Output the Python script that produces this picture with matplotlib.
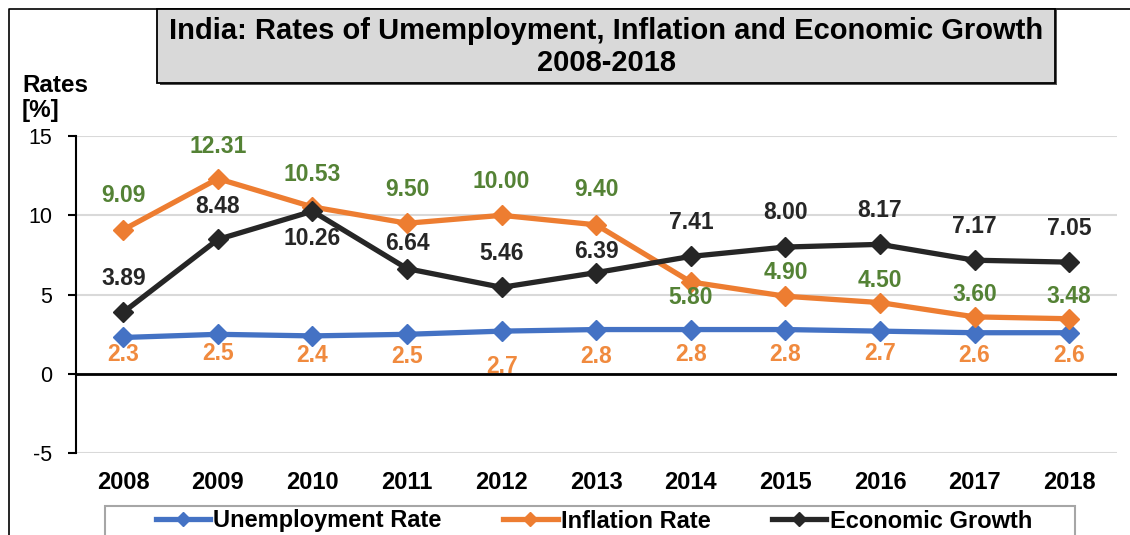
import matplotlib
matplotlib.use("Agg")
import matplotlib.pyplot as plt
from matplotlib.patches import Rectangle
from matplotlib.lines import Line2D

years = ["2008", "2009", "2010", "2011", "2012", "2013", "2014", "2015", "2016", "2017", "2018"]
unemployment = [2.3, 2.5, 2.4, 2.5, 2.7, 2.8, 2.8, 2.8, 2.7, 2.6, 2.6]
inflation = [9.09, 12.31, 10.53, 9.50, 10.00, 9.40, 5.80, 4.90, 4.50, 3.60, 3.48]
growth = [3.89, 8.48, 10.26, 6.64, 5.46, 6.39, 7.41, 8.00, 8.17, 7.17, 7.05]
unemp_labels = ["2.3", "2.5", "2.4", "2.5", "2.7", "2.8", "2.8", "2.8", "2.7", "2.6", "2.6"]
infl_labels = ["9.09", "12.31", "10.53", "9.50", "10.00", "9.40", "5.80", "4.90", "4.50", "3.60", "3.48"]
growth_labels = ["3.89", "8.48", "10.26", "6.64", "5.46", "6.39", "7.41", "8.00", "8.17", "7.17", "7.05"]

# label offsets (pixels, positive = up)
infl_off = [34, 32, 32, 34, 34, 35, -16, 24, 22, 22, 22]
growth_off = [34, 33, -27, 25, 34, 21, 34, 35, 34, 34, 34]
unemp_off = [-17, -19, -20, -22, -35, -27, -25, -25, -22, -23, -23]

BLUE = "#4472C4"
ORANGE = "#ED7D31"
DARK = "#262626"
GREEN = "#548235"
LORANGE = "#F08A3E"
FONT = "Liberation Sans"

plt.rcParams["font.family"] = [FONT, "DejaVu Sans"]
plt.rcParams["axes.unicode_minus"] = False

W, H = 1130, 535
fig = plt.figure(figsize=(W / 100, H / 100), dpi=100)
ax = fig.add_axes([76 / W, 1 - 453.3 / H, (1116.5 - 76) / W, (453.3 - 136) / H])

x = list(range(len(years)))
lw = 3.8
ms = 10
ax.plot(x, unemployment, color=BLUE, lw=lw, marker="D", ms=ms, zorder=3)
ax.plot(x, inflation, color=ORANGE, lw=lw, marker="D", ms=ms, zorder=4)
ax.plot(x, growth, color=DARK, lw=lw, marker="D", ms=ms, zorder=5)

px2pt = 72 / 100
for i in x:
    ax.annotate(infl_labels[i], (i, inflation[i]), xytext=(0, infl_off[i] * px2pt),
                textcoords="offset points", ha="center", va="center",
                color=GREEN, fontsize=16.5, fontweight="bold", zorder=6)
    ax.annotate(growth_labels[i], (i, growth[i]), xytext=(0, growth_off[i] * px2pt),
                textcoords="offset points", ha="center", va="center",
                color=DARK, fontsize=16.5, fontweight="bold", zorder=6)
    ax.annotate(unemp_labels[i], (i, unemployment[i]), xytext=(0, unemp_off[i] * px2pt),
                textcoords="offset points", ha="center", va="center",
                color=LORANGE, fontsize=16.5, fontweight="bold", zorder=6)

ax.set_xlim(-0.5, len(years) - 0.5)
ax.set_ylim(-5, 15)
ax.set_yticks([-5, 0, 5, 10, 15])
ax.set_xticks(x)
ax.set_xticklabels(years, fontweight="bold", fontsize=17)
for s in ["top", "right", "bottom"]:
    ax.spines[s].set_visible(False)
ax.spines["left"].set_linewidth(1.5)
ax.spines["left"].set_color("black")
ax.tick_params(axis="y", length=6, width=1.5, pad=11, labelsize=15.5, direction="out")
ax.tick_params(axis="x", length=0, pad=12.5)
ax.grid(axis="y", color="#D9D9D9", lw=1.5, zorder=0)
ax.set_axisbelow(True)
ax.axhline(0, color="black", lw=2, zorder=2)

# y-axis label
fig.text(22 / W, 1 - 85 / H, "Rates", fontsize=17.5, fontweight="bold", ha="left", va="center")
fig.text(22 / W, 1 - 110 / H, "[%]", fontsize=17.5, fontweight="bold", ha="left", va="center")

# outer frame
fig.add_artist(Line2D([8.5 / W, 8.5 / W, 1.0], [0, 1 - 8.5 / H, 1 - 8.5 / H],
                      transform=fig.transFigure, color="black", lw=1.2))

# title box
fig.add_artist(Rectangle((160 / W, 1 - 85 / H), (1057 - 160) / W, (85 - 10) / H,
                         transform=fig.transFigure, facecolor="#555555", edgecolor="none", zorder=1))
fig.add_artist(Rectangle((157 / W, 1 - 83 / H), (1055 - 157) / W, (83 - 9) / H,
                         transform=fig.transFigure, facecolor="#D9D9D9", edgecolor="black", lw=1.3, zorder=2))
fig.text(606 / W, 1 - 31 / H, "India: Rates of Umemployment, Inflation and Economic Growth",
         fontsize=21, fontweight="bold", ha="center", va="center", zorder=3)
fig.text(606 / W, 1 - 63 / H, "2008-2018", fontsize=21, fontweight="bold",
         ha="center", va="center", zorder=3)

# legend
fig.add_artist(Rectangle((105 / W, -10 / H), (1075 - 105) / W, (535 - 506 + 10) / H,
                         transform=fig.transFigure, facecolor="white", edgecolor="#A6A6A6", lw=1.5))
handles = [
    Line2D([], [], color=BLUE, lw=lw, marker="D", ms=7),
    Line2D([], [], color=ORANGE, lw=lw, marker="D", ms=7),
    Line2D([], [], color=DARK, lw=lw, marker="D", ms=7),
]
leg = fig.legend(handles, ["Unemployment Rate", "Inflation Rate", "Economic Growth"],
                 loc="center", bbox_to_anchor=(594 / W, 1 - 521 / H), ncol=3, frameon=False,
                 prop={"family": FONT, "weight": "bold", "size": 17},
                 handlelength=2.3, handletextpad=0.15, columnspacing=2.6)

fig.savefig("out.png", dpi=100)
